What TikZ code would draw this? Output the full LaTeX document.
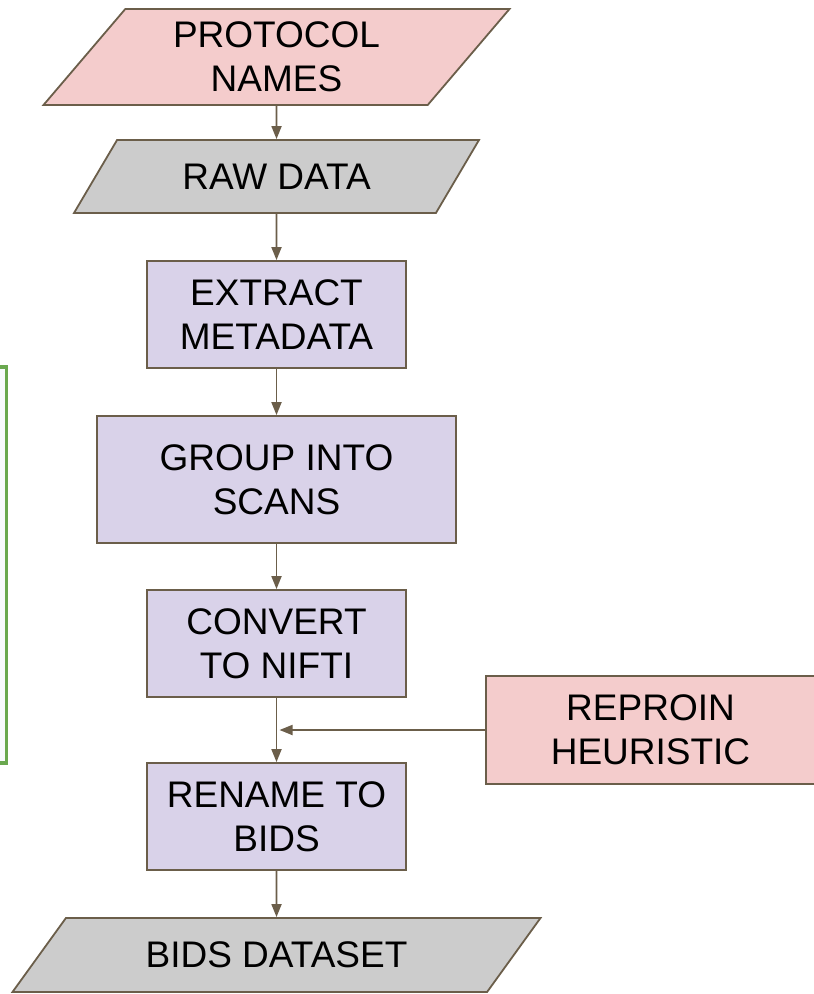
\documentclass[tikz,border=0pt]{standalone}
\usepackage{fontspec}
\setmainfont{Liberation Sans}
\usetikzlibrary{shapes.geometric,arrows.meta,positioning}

\definecolor{edgebrown}{RGB}{107,94,74}
\definecolor{namepink}{RGB}{244,204,204}
\definecolor{datagray}{RGB}{204,204,204}
\definecolor{steplav}{RGB}{217,210,233}
\definecolor{groupgreen}{RGB}{106,168,79}
\definecolor{groupfill}{RGB}{248,250,253}

\begin{document}
\begin{tikzpicture}[x=0.5pt, y=-0.5pt,
        every node/.style={font=\fontsize{18.5}{22}\selectfont, align=center, text=black},
        stepbox/.style={rectangle, draw=edgebrown, line width=0.9pt, fill=steplav,
            minimum width=129.5pt, minimum height=53.5pt},
        databox/.style={trapezium, draw=edgebrown, line width=0.9pt,
            trapezium stretches body, inner xsep=0pt},
        flow/.style={draw=edgebrown, line width=0.9pt, -{Triangle[length=6.5pt,width=5pt]}}]
        \useasboundingbox (0,0) rectangle (813,994);

        % group bracket on the left
        \draw[groupgreen, line width=1.7pt, fill=groupfill] (-30,367) rectangle (6.5,763);

        % inputs
        \node[databox, fill=namepink, trapezium left angle=45.6, trapezium right angle=134.4,
            minimum width=233pt, minimum height=48pt] (names) at (276.5,57) {PROTOCOL\\NAMES};
        \node[databox, fill=datagray, trapezium left angle=42, trapezium right angle=138,
            minimum width=202.5pt, minimum height=36.5pt] (raw) at (276.5,176.5) {RAW DATA};

        % steps
        \node[stepbox] (extract) at (276.5,314.5) {EXTRACT\\METADATA};
        \node[stepbox, minimum width=179.5pt, minimum height=63.5pt] (group) at (276.5,479.5) {GROUP INTO\\SCANS};
        \node[stepbox] (convert) at (276.5,643.5) {CONVERT\\TO NIFTI};
        \node[stepbox] (rename) at (276.5,816.5) {RENAME TO\\BIDS};

        % output
        \node[databox, fill=datagray, trapezium left angle=36.5, trapezium right angle=143.5,
            minimum width=264pt, minimum height=37pt] (bids) at (276.5,955) {BIDS DATASET};

        % heuristic
        \node[stepbox, fill=namepink, minimum width=164.5pt, minimum height=54pt] (reproin) at (650.5,730) {REPROIN\\HEURISTIC};

        % arrows
        \draw[flow] (names) -- (raw);
        \draw[flow] (raw) -- (extract);
        \draw[flow] (extract) -- (group);
        \draw[flow] (group) -- (convert);
        \draw[flow] (convert) -- (rename);
        \draw[flow] (rename) -- (bids);
        \draw[flow] (reproin.west) -- ([xshift=1.5pt]reproin.west -| convert.south);
    \end{tikzpicture}
\end{document}
